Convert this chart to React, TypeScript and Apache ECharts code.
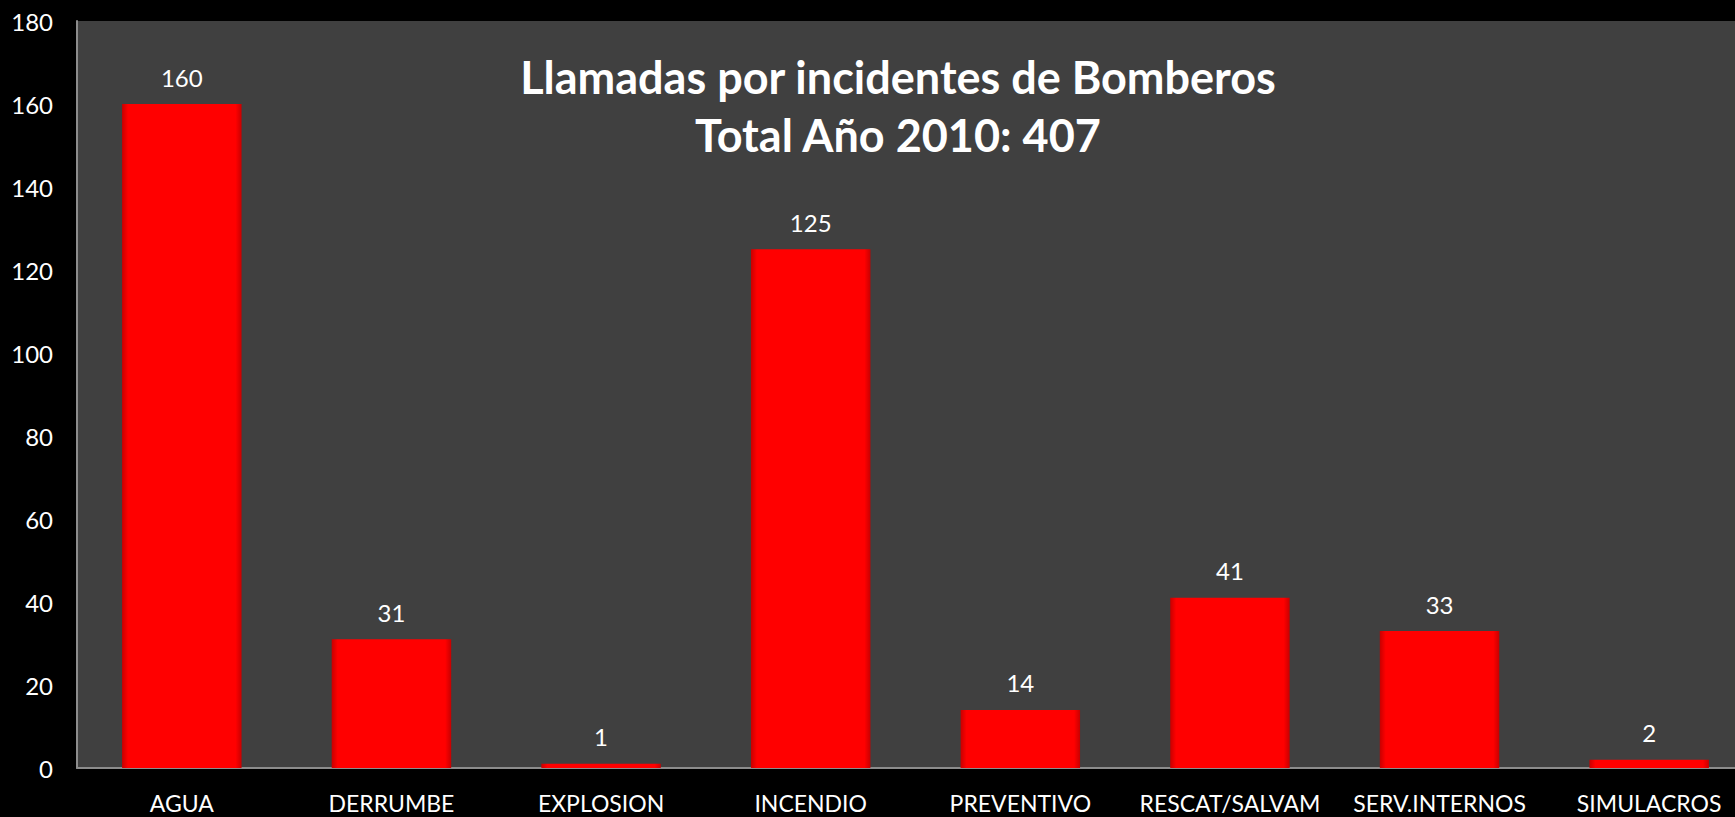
import React, { useEffect, useRef } from "react";
import * as echarts from "echarts";

const categories = ["AGUA", "DERRUMBE", "EXPLOSION", "INCENDIO", "PREVENTIVO", "RESCAT/SALVAM", "SERV.INTERNOS", "SIMULACROS"];
const values = [160, 31, 1, 125, 14, 41, 33, 2];
const titleLines = ["Llamadas por incidentes de Bomberos", "Total Año 2010: 407"];

export default function App() {
  const ref = useRef<HTMLDivElement>(null);
  useEffect(() => {
    document.body.style.margin = "0";
    document.body.style.background = "#000";
    const chart = echarts.init(ref.current!, null, { renderer: "svg" });
    const font = "Lato, 'Open Sans', sans-serif";
    chart.setOption({
      animation: false,
      backgroundColor: "#000000",
      title: {
        text: titleLines.join("\n"),
        left: 893,
        top: 43,
        textAlign: "center",
        textStyle: { color: "#ffffff", fontSize: 45, fontWeight: "bold", lineHeight: 58, fontFamily: font },
      },
      grid: {
        left: 77,
        width: 1677,
        top: 21,
        bottom: 49,
        outerBoundsMode: "none",
        containLabel: false,
        show: true,
        backgroundColor: "#404040",
        borderWidth: 0,
      },
      xAxis: {
        type: "category",
        data: categories,
        axisLine: { show: true, lineStyle: { color: "#8c8c8c", width: 2 } },
        axisTick: { show: false },
        axisLabel: { color: "#ffffff", fontSize: 23, fontFamily: font, margin: 23, interval: 0 },
      },
      yAxis: {
        type: "value",
        min: 0,
        max: 180,
        interval: 20,
        splitLine: { show: false },
        axisLine: { show: true, lineStyle: { color: "#8c8c8c", width: 2 } },
        axisTick: { show: false },
        axisLabel: { color: "#ffffff", fontSize: 24, fontFamily: font, margin: 24 },
      },
      series: [
        {
          type: "bar",
          data: values,
          barWidth: "57%",
          itemStyle: {
            color: new echarts.graphic.LinearGradient(0, 0, 1, 0, [
              { offset: 0, color: "#c80000" },
              { offset: 0.05, color: "#ff0000" },
              { offset: 0.95, color: "#ff0000" },
              { offset: 1, color: "#c80000" },
            ]),
          },
          label: {
            show: true,
            position: "top",
            distance: 15,
            color: "#ffffff",
            fontSize: 24,
            fontFamily: font,
          },
        },
      ],
    });
    return () => chart.dispose();
  }, []);
  return <div ref={ref} style={{ width: 1735, height: 817 }} />;
}
